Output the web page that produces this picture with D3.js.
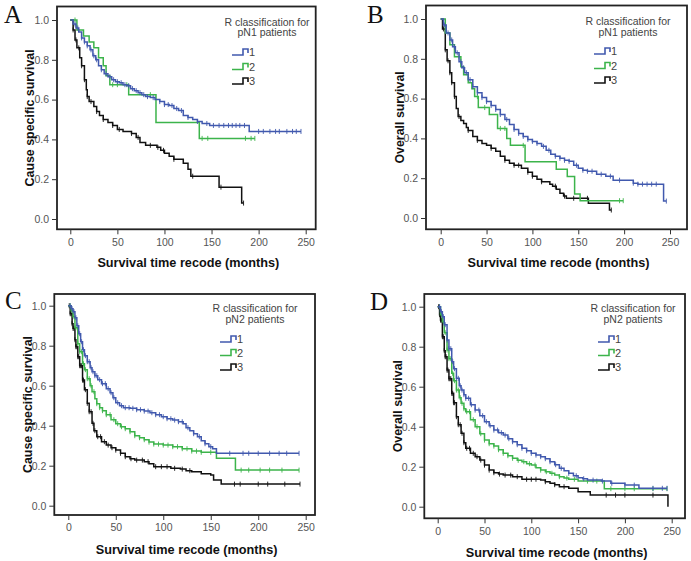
<!DOCTYPE html>
<html><head><meta charset="utf-8">
<script src="https://cdn.jsdelivr.net/npm/d3@7/dist/d3.min.js"></script>
<style>body{margin:0;background:#fff}svg{display:block}</style>
</head><body>
<svg id="chart" width="691" height="561"></svg>
<script>
// ---------- data ----------
const xTicks = [0, 50, 100, 150, 200, 250];
const yTicks = [0.0, 0.2, 0.4, 0.6, 0.8, 1.0];
const groupLabels = ["1", "2", "3"];
const panelLetters = ["A", "B", "C", "D"];
const yTitles = ["Cause specific survival", "Overall survival", "Cause specific survival", "Overall survival"];
const xTitle = "Survival time recode (months)";
const legendTitles = [["R classification for", "pN1 patients"], ["R classification for", "pN1 patients"],
                      ["R classification for", "pN2 patients"], ["R classification for", "pN2 patients"]];

// Panel A: cause specific survival, pN1
const A1 = [[0,1],[3,0.98],[6,0.96],[9,0.94],[12,0.91],[15,0.89],[18,0.87],[21,0.85],[24,0.82],[27,0.80],[30,0.77],[33,0.75],[36,0.73],[40,0.715],[44,0.70],[48,0.69],[52,0.685],[56,0.675],[60,0.67],[64,0.655],[68,0.645],[72,0.635],[76,0.625],[80,0.615],[85,0.61],[90,0.60],[95,0.59],[100,0.575],[105,0.57],[110,0.555],[115,0.545],[120,0.52],[125,0.51],[130,0.50],[135,0.49],[140,0.48],[148,0.47],[190,0.44],[245,0.44]];
const A2 = [[0,1],[7,0.95],[14,0.92],[20,0.89],[25,0.86],[30,0.81],[35,0.77],[38,0.72],[42,0.675],[62,0.625],[91,0.485],[137,0.405],[196,0.405]];
const A3 = [[0,1],[3,0.95],[5,0.90],[7,0.86],[10,0.81],[12,0.77],[15,0.70],[17,0.65],[18,0.615],[20,0.59],[25,0.565],[28,0.54],[31,0.52],[35,0.50],[40,0.485],[45,0.47],[50,0.45],[56,0.44],[65,0.43],[70,0.41],[74,0.385],[80,0.37],[92,0.36],[96,0.345],[100,0.33],[105,0.315],[110,0.30],[120,0.28],[125,0.25],[128,0.215],[158,0.16],[182,0.08],[184,0.08]];
const A1c = [5,8,12,15,18,22,25,28,33,38,42,46,50,54,58,62,66,70,74,78,82,88,95,100,104,108,113,118,125,135,145,152,158,163,168,172,176,180,185,200,205,212,218,222,230,236,240,245];
const A2c = [5,45,50,60,85,140,146,186,192,196];
const A3c = [3,6,9,12,15,18,22,28,35,45,52,65,72,85,93,99,110,130,160,184];

// Panel B: overall survival, pN1
const B1 = [[0,1],[3,0.97],[6,0.93],[10,0.895],[13,0.86],[16,0.83],[20,0.785],[23,0.755],[26,0.73],[30,0.695],[35,0.66],[40,0.63],[45,0.605],[50,0.585],[55,0.565],[60,0.545],[65,0.52],[70,0.495],[75,0.47],[80,0.445],[85,0.425],[90,0.41],[95,0.395],[100,0.385],[105,0.375],[110,0.36],[115,0.34],[120,0.32],[125,0.31],[130,0.30],[135,0.29],[140,0.285],[145,0.265],[150,0.25],[155,0.24],[160,0.235],[170,0.22],[180,0.21],[188,0.19],[210,0.175],[215,0.17],[243,0.085],[246,0.085]];
const B2 = [[0,1],[5,0.93],[10,0.87],[15,0.81],[22,0.76],[25,0.72],[30,0.68],[34,0.65],[37,0.61],[41,0.555],[53,0.52],[62,0.45],[72,0.40],[76,0.365],[92,0.283],[126,0.245],[138,0.208],[146,0.12],[152,0.087],[199,0.087]];
const B3 = [[0,1],[2,0.95],[5,0.845],[7,0.79],[10,0.73],[12,0.68],[15,0.61],[17,0.55],[19,0.51],[22,0.49],[25,0.475],[28,0.455],[30,0.44],[35,0.41],[40,0.39],[45,0.375],[50,0.365],[55,0.35],[60,0.335],[65,0.31],[70,0.29],[75,0.275],[80,0.265],[88,0.25],[95,0.23],[100,0.21],[105,0.195],[110,0.182],[119,0.17],[122,0.16],[126,0.145],[130,0.125],[134,0.11],[137,0.099],[161,0.074],[184,0.04],[186,0.04]];
const B1c = [4,8,12,15,18,22,25,28,32,35,40,45,50,55,60,65,72,80,85,90,95,100,105,112,118,125,130,135,140,148,155,160,165,175,185,195,210,215,220,225,230,235,246];
const B2c = [20,40,48,65,70,90,195,199];
const B3c = [3,5,8,10,12,15,20,30,40,55,70,80,85,95,100,110,125,135,145,160,186];

// Panel C: cause specific survival, pN2
const C1 = [[0,1],[3,0.985],[5,0.97],[7,0.94],[9,0.90],[11,0.86],[13,0.82],[15,0.78],[17,0.75],[20,0.72],[23,0.69],[25,0.67],[28,0.65],[31,0.63],[35,0.61],[40,0.585],[44,0.565],[47,0.54],[50,0.515],[54,0.50],[58,0.49],[65,0.487],[72,0.48],[80,0.473],[86,0.465],[92,0.455],[98,0.445],[104,0.435],[110,0.428],[116,0.42],[121,0.41],[124,0.39],[128,0.375],[132,0.36],[136,0.345],[140,0.325],[144,0.31],[148,0.295],[152,0.285],[156,0.262],[243,0.262]];
const C2 = [[0,1],[3,0.975],[5,0.945],[7,0.89],[10,0.81],[12,0.77],[15,0.71],[17,0.68],[20,0.635],[23,0.60],[25,0.57],[28,0.535],[30,0.51],[33,0.49],[36,0.475],[40,0.455],[45,0.43],[50,0.41],[55,0.395],[60,0.385],[65,0.37],[70,0.35],[75,0.34],[80,0.33],[85,0.318],[90,0.308],[100,0.303],[110,0.295],[120,0.285],[130,0.273],[140,0.267],[156,0.237],[176,0.178],[243,0.178]];
const C3 = [[0,1],[2,0.96],[4,0.91],[5,0.887],[7,0.83],[8,0.795],[10,0.745],[12,0.70],[15,0.628],[17,0.58],[20,0.512],[22,0.47],[25,0.412],[27,0.375],[30,0.345],[35,0.32],[40,0.303],[45,0.29],[50,0.278],[55,0.262],[60,0.245],[65,0.235],[70,0.228],[80,0.22],[85,0.21],[90,0.195],[108,0.187],[118,0.183],[124,0.175],[130,0.17],[140,0.16],[150,0.153],[153,0.128],[161,0.108],[244,0.108]];
const C1c = [2,4,6,8,10,12,14,16,18,20,22,24,26,28,30,33,36,39,42,45,48,52,56,60,64,68,72,76,80,84,88,92,96,100,104,108,112,116,120,126,132,138,144,150,170,184,190,200,212,222,230,243];
const C2c = [2,4,6,8,10,12,14,16,18,20,22,24,27,30,33,36,40,44,48,52,56,60,65,70,75,80,85,90,95,100,105,110,115,120,125,130,135,140,150,182,190,202,212,225,243];
const C3c = [1,2,3,4,5,6,7,8,9,10,11,12,13,14,15,16,18,20,22,24,26,28,31,34,38,42,46,50,55,60,66,72,78,84,92,98,104,112,120,128,175,181,200,210,228,244];

// Panel D: overall survival, pN2
const D1 = [[0,1],[3,0.975],[5,0.95],[7,0.91],[10,0.833],[12,0.79],[15,0.725],[17,0.69],[20,0.642],[23,0.605],[25,0.583],[28,0.56],[30,0.542],[35,0.51],[40,0.483],[45,0.455],[50,0.425],[55,0.405],[60,0.383],[65,0.37],[70,0.358],[75,0.34],[80,0.325],[85,0.31],[90,0.292],[95,0.28],[100,0.267],[105,0.258],[110,0.25],[115,0.24],[120,0.225],[125,0.21],[130,0.192],[135,0.18],[140,0.167],[145,0.155],[150,0.145],[155,0.14],[160,0.133],[175,0.128],[185,0.117],[200,0.108],[215,0.092],[245,0.092]];
const D2 = [[0,1],[3,0.96],[5,0.925],[7,0.87],[10,0.783],[12,0.74],[15,0.667],[17,0.63],[20,0.583],[23,0.545],[25,0.517],[28,0.49],[30,0.475],[35,0.435],[40,0.40],[45,0.365],[50,0.333],[55,0.315],[60,0.303],[65,0.285],[70,0.267],[75,0.255],[80,0.242],[85,0.232],[90,0.225],[95,0.215],[100,0.208],[105,0.195],[110,0.183],[115,0.175],[120,0.167],[125,0.158],[130,0.15],[135,0.143],[140,0.137],[150,0.128],[178,0.09],[245,0.09]];
const D3 = [[0,1],[2,0.96],[3,0.933],[5,0.85],[7,0.78],[8,0.75],[10,0.683],[12,0.64],[15,0.567],[17,0.52],[20,0.45],[22,0.41],[25,0.367],[28,0.32],[30,0.292],[35,0.267],[40,0.25],[45,0.233],[50,0.208],[55,0.183],[60,0.17],[65,0.163],[70,0.158],[80,0.15],[90,0.137],[110,0.133],[115,0.125],[120,0.117],[125,0.11],[130,0.10],[140,0.092],[150,0.075],[163,0.058],[246,0.0]];
const D1c = [2,4,6,8,10,12,14,16,18,20,22,24,26,28,30,33,36,40,44,48,52,56,60,64,68,72,76,80,85,90,95,100,105,110,115,120,126,132,140,148,156,166,176,186,200,210,230,240,245];
const D2c = [2,4,6,8,10,12,14,16,18,20,22,24,26,28,31,34,38,42,46,50,55,60,65,70,75,80,86,92,98,104,110,116,122,130,138,146,160,170,185,200,210,230,245];
const D3c = [1,2,3,4,5,6,7,8,9,10,11,12,13,14,15,16,17,18,20,22,24,26,28,31,34,38,42,46,50,55,60,66,72,78,85,95,100,105,115,125,135,180,190,200,230];

const seriesColors = ["#4159ae", "#3cb44b", "#111111"];

// ---------- layout ----------
const panels = [
  {series:[A1,A2,A3], cens:[A1c,A2c,A3c], frame:[57,6.5,315.7,229.3], xr:[70.3,305.7], yr:[219,20],
   letter:[4,23], ytx:30, xtitleY:266.5, leg:{cx:267, ty:[25.5,36], sx:232, iy:[52,66.5,81]}},
  {series:[B1,B2,B3], cens:[B1c,B2c,B3c], frame:[426,5.5,687,229.3], xr:[440.7,670], yr:[218,19],
   letter:[367,23], ytx:400, xtitleY:266.5, leg:{cx:628, ty:[24.5,35.5], sx:594, iy:[51,65.5,80]}},
  {series:[C1,C2,C3], cens:[C1c,C2c,C3c], frame:[54.3,294,315,515], xr:[68.3,305.7], yr:[505.7,305.7],
   letter:[5,309], ytx:28, xtitleY:553.5, leg:{cx:255, ty:[311.5,322.5], sx:220, iy:[339,352.5,367]}},
  {series:[D1,D2,D3], cens:[D1c,D2c,D3c], frame:[424.3,294,685,518.3], xr:[437.7,671.7], yr:[506.7,306.7],
   letter:[370,310], ytx:398, xtitleY:556.5, leg:{cx:633, ty:[311.5,322.5], sx:598, iy:[339,352.5,367]}}
];

const svg = d3.select("#chart");
const FONT = "'Liberation Sans', Arial, sans-serif";

function stepValue(data, t) {
  let v = data[0][1];
  for (const d of data) { if (d[0] <= t) v = d[1]; else break; }
  return v;
}

panels.forEach((p, i) => {
  const g = svg.append("g");
  const x = d3.scaleLinear().domain([0, 250]).range(p.xr);
  const y = d3.scaleLinear().domain([0, 1]).range(p.yr);
  const [fx0, fy0, fx1, fy1] = p.frame;

  // frame
  g.append("rect").attr("x", fx0).attr("y", fy0).attr("width", fx1 - fx0).attr("height", fy1 - fy0)
    .attr("fill", "none").attr("stroke", "#222").attr("stroke-width", 1.8);

  // y axis
  const yAxis = d3.axisLeft(y).tickValues(yTicks).tickFormat(d3.format(".1f")).tickSizeOuter(0).tickSizeInner(5).tickPadding(3);
  const ya = g.append("g").attr("transform", `translate(${fx0},0)`).call(yAxis);
  ya.select(".domain").remove();
  ya.selectAll("line").attr("stroke", "#333");
  ya.selectAll("text").attr("font-family", FONT).attr("font-size", 10.5).attr("fill", "#555");

  // x axis
  const xAxis = d3.axisBottom(x).tickValues(xTicks).tickFormat(d3.format("d")).tickSizeOuter(0).tickSizeInner(5).tickPadding(4);
  const xa = g.append("g").attr("transform", `translate(0,${fy1})`).call(xAxis);
  xa.select(".domain").remove();
  xa.selectAll("line").attr("stroke", "#333");
  xa.selectAll("text").attr("font-family", FONT).attr("font-size", 10.5).attr("fill", "#555");

  // axis titles
  g.append("text").attr("x", (fx0 + fx1) / 2 + 2).attr("y", p.xtitleY).attr("text-anchor", "middle")
    .attr("font-family", FONT).attr("font-weight", "bold").attr("font-size", 12.7).attr("fill", "#111").text(xTitle);
  g.append("text").attr("transform", `translate(${p.ytx},${(fy0 + fy1) / 2}) rotate(-90)`).attr("text-anchor", "middle")
    .attr("dominant-baseline", "central")
    .attr("font-family", FONT).attr("font-weight", "bold").attr("font-size", 12.4).attr("fill", "#111").text(yTitles[i]);

  // panel letter
  g.append("text").attr("x", p.letter[0]).attr("y", p.letter[1]).attr("font-family", "'Liberation Serif', 'Times New Roman', serif")
    .attr("font-size", 25).attr("fill", "#111").text(panelLetters[i]);

  // curves
  const line = d3.line().x(d => x(d[0])).y(d => y(d[1])).curve(d3.curveStepAfter);
  [2, 1, 0].forEach(k => {
    const data = p.series[k];
    g.append("path").datum(data).attr("d", line).attr("fill", "none")
      .attr("stroke", seriesColors[k]).attr("stroke-width", 1.5);
    g.selectAll(null).data(p.cens[k]).enter().append("line")
      .attr("x1", t => x(t)).attr("x2", t => x(t))
      .attr("y1", t => y(stepValue(data, t)) - 2.5).attr("y2", t => y(stepValue(data, t)) + 2.5)
      .attr("stroke", seriesColors[k]).attr("stroke-width", 0.9);
  });

  // legend
  const L = p.leg;
  legendTitles[i].forEach((t, j) => {
    g.append("text").attr("x", L.cx).attr("y", L.ty[j]).attr("text-anchor", "middle")
      .attr("font-family", FONT).attr("font-size", 10.5).attr("fill", "#444").text(t);
  });
  groupLabels.forEach((lab, k) => {
    const yy = L.iy[k];
    g.append("path").attr("d", `M${L.sx},${yy + 3} H${L.sx + 11} V${yy - 3} H${L.sx + 16} V${yy + 1}`)
      .attr("fill", "none").attr("stroke", seriesColors[k]).attr("stroke-width", 1.6);
    g.append("text").attr("x", L.sx + 17).attr("y", yy + 4).attr("font-family", FONT).attr("font-size", 11)
      .attr("fill", "#444").text(lab);
  });
});
</script>
</body></html>
